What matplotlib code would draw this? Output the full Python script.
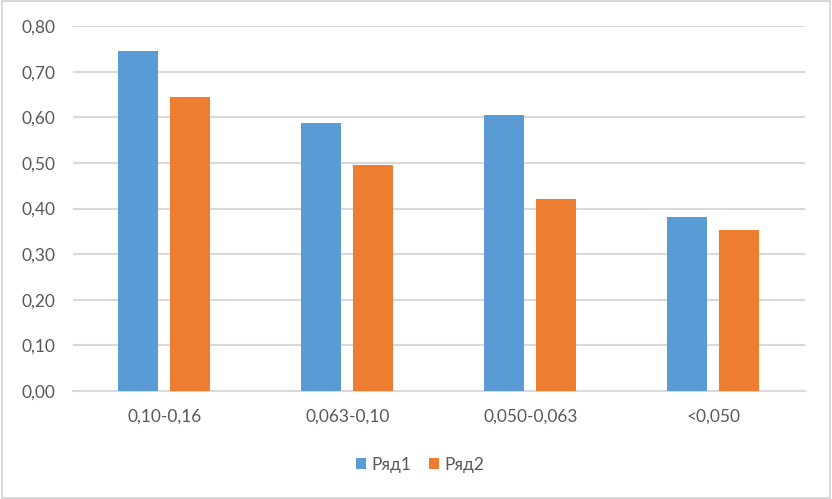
import matplotlib
matplotlib.use("Agg")
import matplotlib.pyplot as plt
from matplotlib.patches import Rectangle
import numpy as np

categories = ["0,10-0,16", "0,063-0,10", "0,050-0,063", "<0,050"]
series1 = [0.746, 0.587, 0.604, 0.381]
series2 = [0.645, 0.495, 0.420, 0.353]
series_names = ["Ряд1", "Ряд2"]
yticks = [0.0, 0.1, 0.2, 0.3, 0.4, 0.5, 0.6, 0.7, 0.8]
ytick_labels = ["0,00", "0,10", "0,20", "0,30", "0,40", "0,50", "0,60", "0,70", "0,80"]

plt.rcParams['font.family'] = ['Lato', 'DejaVu Sans']

fig = plt.figure(figsize=(8.32, 4.99), dpi=100)
ax = fig.add_axes([0.0874, 0.2164, 0.9675 - 0.0874, 0.9479 - 0.2164])

x = np.arange(len(categories))
w = 0.218
off = 0.142
ax.bar(x - off, series1, width=w, color="#5B9BD5", label=series_names[0], zorder=3)
ax.bar(x + off, series2, width=w, color="#ED7D31", label=series_names[1], zorder=3)

ax.set_xlim(-0.5, len(categories) - 0.5)
ax.set_ylim(0, 0.8)
ax.set_yticks(yticks)
ax.set_yticklabels(ytick_labels)
ax.set_xticks(x)
ax.set_xticklabels(categories)
ax.yaxis.grid(True, color="#D9D9D9", linewidth=1.5, zorder=0)
ax.set_axisbelow(True)
for s in ["top", "right", "left"]:
    ax.spines[s].set_visible(False)
ax.spines["bottom"].set_color("#D9D9D9")
ax.spines["bottom"].set_linewidth(1.5)
ax.tick_params(axis="both", length=0, colors="#595959", labelsize=12.5)
ax.tick_params(axis="y", pad=12.5)
ax.tick_params(axis="x", pad=13)

fig.legend(loc="center", bbox_to_anchor=(420 / 832, 1 - 465 / 499), ncol=2,
           frameon=False, fontsize=12.5, handlelength=0.6, handleheight=0.6,
           handletextpad=0.3, columnspacing=1.0, labelcolor="#595959")

fig.patches.append(Rectangle((0.002, 0.003), 0.996, 0.994, transform=fig.transFigure,
                             fill=False, edgecolor="#D9D9D9", linewidth=1.5))

fig.savefig("out.png", dpi=100)
